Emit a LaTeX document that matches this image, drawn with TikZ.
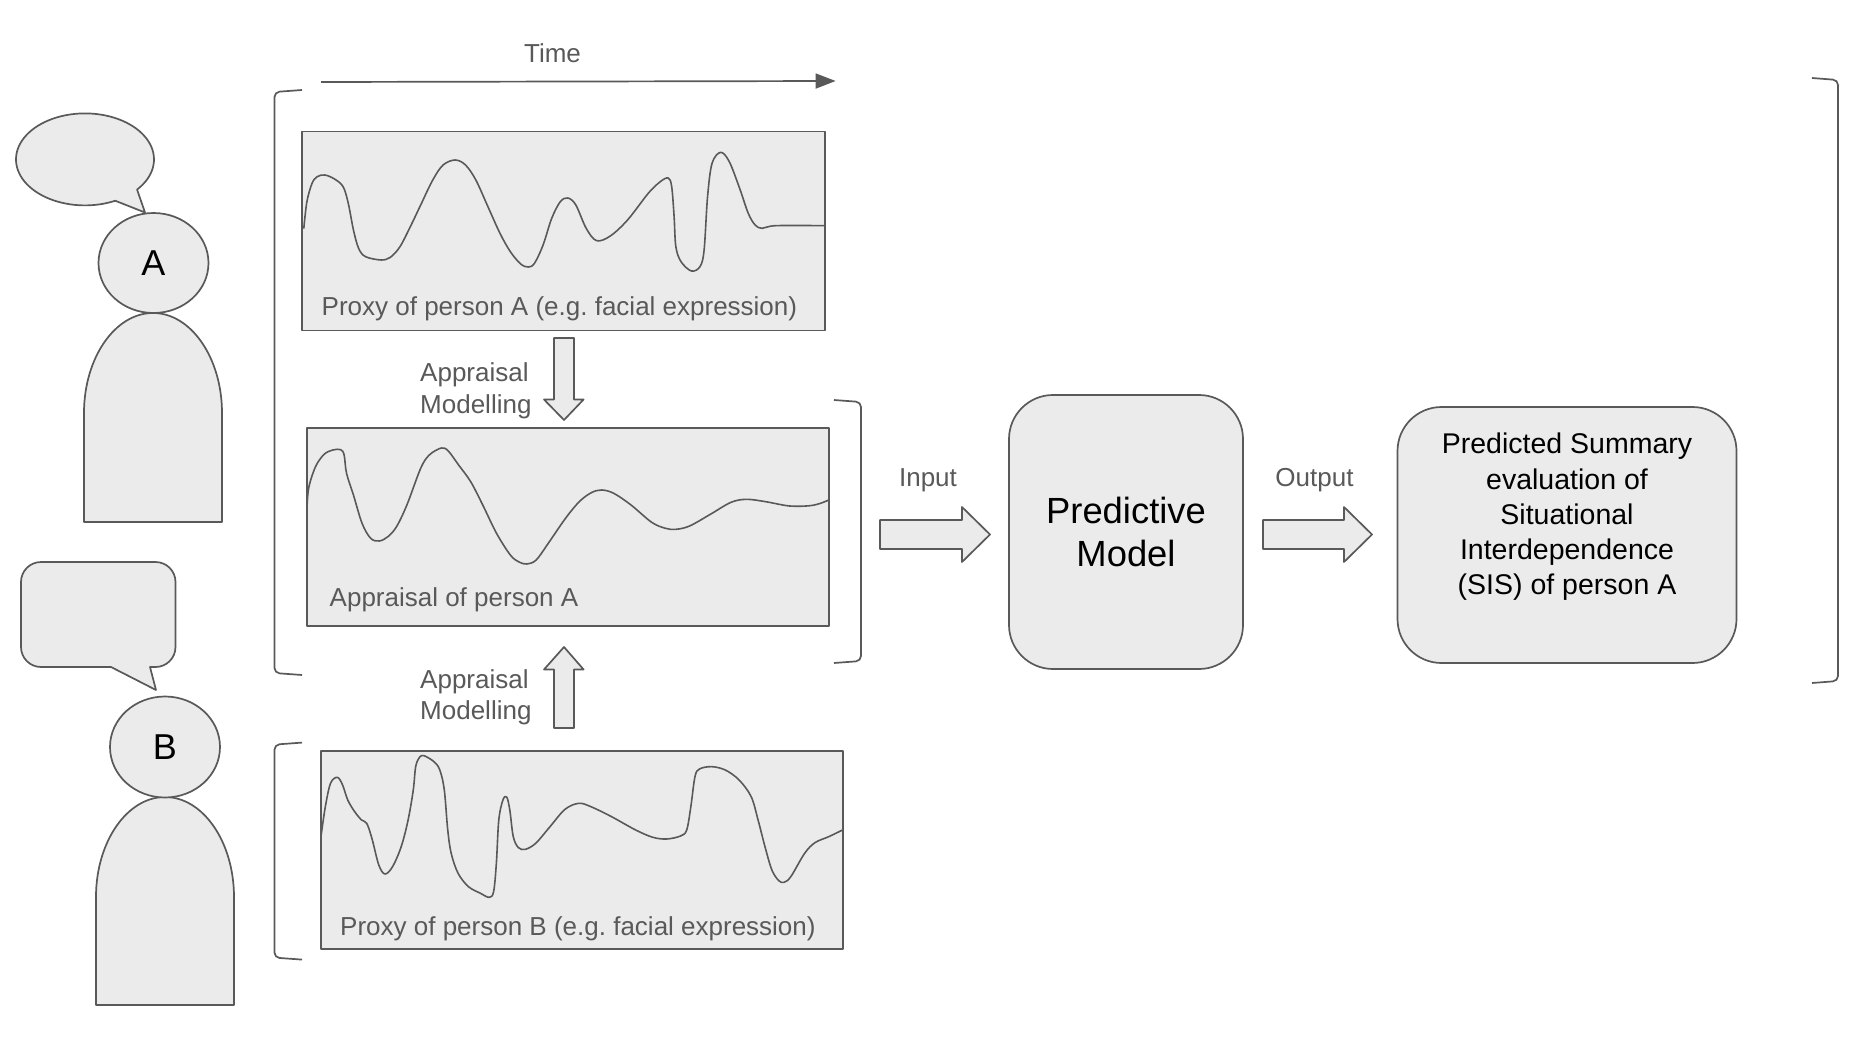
\documentclass[tikz,border=0pt]{standalone}
\usepackage{fontspec}
\setmainfont{Liberation Sans}
\usetikzlibrary{arrows.meta,shapes.geometric}
\definecolor{ink}{HTML}{595959}
\definecolor{panelgrey}{HTML}{EBEBEB}
\tikzset{
  shape line/.style={draw=ink,line width=1.7pt,fill=panelgrey,line join=round},
  plain line/.style={draw=ink,line width=1.7pt,line join=round},
  wave/.style={draw=ink,line width=1.6pt,line join=round},
  signal box/.style={shape line,rectangle,inner sep=0pt,outer sep=0pt},
  rounded box/.style={shape line,rectangle,rounded corners=44pt,inner sep=0pt,outer sep=0pt},
  head/.style={shape line,ellipse,inner sep=0pt,outer sep=0pt,text=black,font=\fontsize{36}{43}\selectfont},
  grey label/.style={text=ink,inner sep=0pt,font=\fontsize{26}{31.6}\selectfont},
  left label/.style={grey label,anchor=west,align=left},
  bracket/.style={plain line,rounded corners=5pt},
}
\frenchspacing
\begin{document}
\begin{tikzpicture}[x=1pt,y=-1pt]
\useasboundingbox (0,0) rectangle (1858,1043);
\fill[white] (0,0) rectangle (1858,1043);

% Time
\node[grey label] (timelabel) at (552.5,53) {Time};
\coordinate (timeS) at (321,82);
\coordinate (timeE) at (835.6,81);
\draw[plain line,-{Triangle[length=20pt,width=15pt]},fill=ink] (timeS) -- (timeE);

% brackets
\draw[bracket] (302,90) -- (274.5,92) -- (274.5,673) -- (302,675);
\draw[bracket] (302,742.6) -- (274.5,744.6) -- (274.5,957.6) -- (302,959.6);
\draw[bracket] (834,400) -- (861,402) -- (861,661) -- (834,663);
\draw[bracket] (1812,78) -- (1838,80) -- (1838,681) -- (1812,683);

% person A
\draw[shape line] (84,522) -- (84,413) .. controls (84,358) and (115,313) .. (153,313)
  .. controls (191,313) and (222,358) .. (222,413) -- (222,522) -- cycle;
\node[head,minimum width=110pt,minimum height=100pt] (headA) at (153.5,263) {A};
\draw[shape line] plot[domain=64:401,samples=90,smooth] ({85+69*cos(\x)},{159.4+46*sin(\x)})
  -- (145,212.5) -- cycle;

% person B
\draw[shape line] (96,1005) -- (96,897) .. controls (96,842) and (127,797) .. (165,797)
  .. controls (203,797) and (234,842) .. (234,897) -- (234,1005) -- cycle;
\node[head,minimum width=110pt,minimum height=101pt] (headB) at (165,747) {B};
\draw[shape line] (111,667) [rounded corners=20pt] -- (21,667) -- (21,562) -- (175.5,562) -- (175.5,667) [sharp corners] -- (150,667) -- (156,690) -- cycle;

% signal boxes
\node[signal box,minimum width=523pt,minimum height=199pt] (boxA) at (563.5,231) {};
\node[signal box,minimum width=522pt,minimum height=198pt] (boxM) at (568,527) {};
\node[signal box,minimum width=522pt,minimum height=198pt] (boxB) at (582,850) {};

\begin{scope}[shift={(300,130)},xscale=0.3448,yscale=0.3333]
\draw[wave] plot[smooth,tension=0.55] coordinates {(11,296)(20,215)(35,160)(50,140)(72,135)(100,147)(125,170)(140,220)(155,300)(170,355)(190,380)(235,390)(262,382)(290,350)(320,290)(350,225)(385,150)(415,105)(450,90)(480,105)(510,150)(545,230)(580,310)(610,365)(640,402)(662,411)(680,400)(705,345)(730,265)(755,215)(777,204)(800,225)(830,295)(860,332)(900,318)(950,270)(1010,190)(1045,155)(1068,144)(1078,170)(1085,260)(1090,350)(1105,395)(1135,423)(1160,410)(1172,360)(1182,200)(1195,100)(1220,67)(1245,95)(1275,175)(1300,250)(1320,285)(1340,295)(1380,287)(1520,287)};
\end{scope}
\begin{scope}[shift={(300,425)},xscale=0.3448,yscale=0.3333]
\draw[wave] plot[smooth,tension=0.55] coordinates {(20,258)(25,190)(45,125)(70,88)(95,75)(118,74)(128,90)(135,145)(155,210)(180,295)(205,340)(230,348)(255,335)(280,305)(310,240)(350,130)(375,90)(410,69)(430,78)(460,120)(495,170)(530,240)(570,325)(610,390)(635,411)(658,417)(685,405)(720,355)(770,280)(810,230)(845,203)(875,195)(910,205)(960,240)(1020,292)(1060,310)(1090,313)(1130,303)(1190,268)(1250,232)(1295,223)(1350,230)(1420,243)(1480,242)(1515,233)(1535,224)};
\end{scope}
\begin{scope}[shift={(315,750)},xscale=0.3448,yscale=0.3333]
\draw[wave] plot[smooth,tension=0.55] coordinates {(18,255)(30,170)(45,100)(65,82)(80,105)(95,150)(115,185)(135,210)(150,220)(165,265)(185,345)(203,372)(225,350)(250,290)(270,210)(285,120)(292,50)(303,22)(316,17)(345,35)(362,60)(375,120)(385,240)(395,310)(415,370)(445,410)(480,430)(505,442)(518,425)(526,340)(533,210)(545,150)(556,141)(565,180)(575,260)(590,293)(610,298)(640,280)(680,232)(725,178)(765,160)(800,170)(860,200)(930,240)(980,262)(1020,267)(1060,258)(1078,240)(1090,170)(1102,80)(1115,57)(1150,50)(1190,60)(1230,90)(1265,140)(1285,210)(1305,290)(1325,360)(1345,392)(1360,397)(1380,380)(1420,310)(1450,278)(1490,260)(1530,240)};
\end{scope}

% labels inside boxes
\node[left label] (proxyA) at (321.5,308.4) {Proxy of person A (e.g. facial expression)};
\node[left label] (apprA) at (329.5,600) {Appraisal of person A};
\node[left label] (proxyB) at (340,929) {Proxy of person B (e.g. facial expression)};

% appraisal modelling
\node[left label] (modU) at (420,391) {Appraisal\\Modelling};
\node[left label] (modL) at (420,697.4) {Appraisal\\Modelling};
\draw[shape line] (554,338) -- (574,338) -- (574,399.5) -- (583.6,399.5) -- (564,420) -- (544,399.5) -- (554,399.5) -- cycle;
\draw[shape line] (554,728) -- (574,728) -- (574,669.5) -- (583.6,669.5) -- (564,647) -- (544,669.5) -- (554,669.5) -- cycle;

% input / output
\node[grey label] (inputlabel) at (928,480.4) {Input};
\node[grey label] (outputlabel) at (1314.5,480.4) {Output};
\draw[shape line] (880,520) -- (962,520) -- (962,507) -- (990,534.5) -- (962,562) -- (962,549) -- (880,549) -- cycle;
\draw[shape line] (1263,520) -- (1344,520) -- (1344,507) -- (1372,534.5) -- (1344,562) -- (1344,549) -- (1263,549) -- cycle;

% model and result
\node[rounded box,minimum width=234pt,minimum height=274pt,align=center,font=\fontsize{36.4}{43}\selectfont,text=black] (model) at (1126,532) {Predictive\\Model};
\node[rounded box,minimum width=339pt,minimum height=256pt] (result) at (1567,535) {};
\node[align=center,inner sep=0pt,text=black,font=\fontsize{28.5}{35.3}\selectfont] (resulttext) at (1567,517) {Predicted Summary\\evaluation of\\Situational\\Interdependence\\(SIS) of person A};
\end{tikzpicture}
\end{document}
